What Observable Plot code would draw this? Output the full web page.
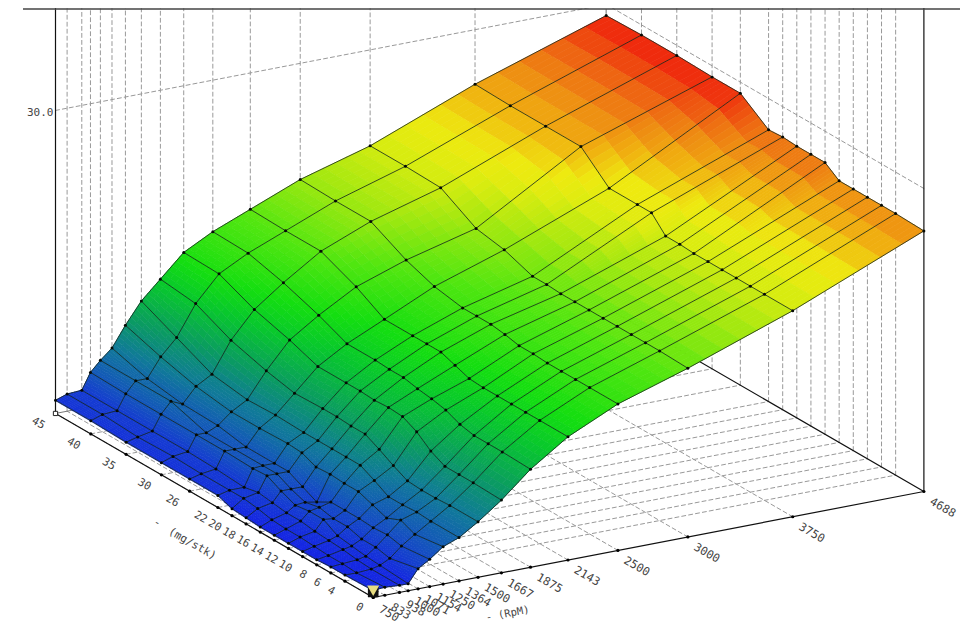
<!DOCTYPE html>
<html><head><meta charset="utf-8">
<script src="https://cdn.jsdelivr.net/npm/d3@7"></script>
<script src="https://cdn.jsdelivr.net/npm/@observablehq/plot@0.6"></script>
<style>html,body{margin:0;background:#fff}svg{display:block}</style>
</head><body><div id="chart"></div>
<script>
const rpm=[750,833,938,1000,1071,1154,1250,1364,1500,1667,1875,2143,2500,3000,3750,4688];
const fuel=[0,4,6,8,10,12,14,16,18,20,22,26,30,35,40,45];
const z0 =[.7,.8,.7,.7,2.0,2.7,3.7,4.3,5.5,7.2,9.7,12.2,14.5,16.7,20.4,25.8];
const z4 =[.6,.6,.7,.9,1.4,2.4,3.3,4.3,5.5,7.3,9.8,12.2,14.5,16.8,20.4,25.9];
const z6 =[.6,.7,.8,1.0,1.7,2.7,3.9,4.4,5.4,7.3,9.8,12.2,14.5,16.8,20.4,25.9];
const z8 =[.5,.7,1.0,1.2,1.7,2.6,3.3,4.3,5.4,7.3,9.8,12.2,14.5,16.8,20.4,25.9];
const z10=[.5,.8,1.1,1.4,2.1,2.7,3.8,4.3,5.5,8.0,10.1,12.2,14.5,16.8,20.4,25.9];
const z12=[.5,.9,1.2,2.2,2.1,2.7,4.3,5.1,6.2,9.1,10.7,12.2,14.6,16.8,20.4,25.9];
const z14=[.5,.9,1.4,2.2,2.4,2.7,4.3,5.8,7.0,9.8,11.0,12.3,14.6,16.8,20.4,26.9];
const z16=[.5,1.0,1.4,2.0,2.1,1.9,4.4,5.8,7.7,9.9,11.2,12.8,14.9,16.8,20.5,26.9];
const z18=[.6,1.3,1.6,2.6,2.6,2.6,4.3,5.8,7.7,9.8,11.5,13.3,15.1,16.8,20.5,26.9];
const z20=[.7,1.5,1.8,3.3,3.3,3.3,4.9,5.8,7.8,9.9,11.5,13.3,15.1,16.9,22.0,27.0];
const z22=[1.2,1.5,1.5,3.2,3.3,3.3,5.0,5.8,7.8,9.9,11.6,13.3,15.1,16.9,22.0,26.9];
const z26=[1.2,1.5,1.7,3.3,3.3,3.3,4.9,5.9,7.7,9.9,11.6,13.3,15.6,17.9,22.0,28.9];
const z30=[1.2,1.6,1.8,3.3,3.3,3.8,4.9,5.8,8.3,10.9,12.8,14.9,16.6,18.4,24.5,28.9];
const z35=[1.2,1.5,1.8,3.3,4.4,3.9,5.4,6.3,9.3,11.9,14.0,16.4,18.4,20.4,24.5,29.0];
const z40=[1.3,1.7,1.8,3.3,4.4,4.4,6.3,7.9,10.9,13.4,14.9,16.4,18.4,20.5,24.5,29.0];
const z45=[1.3,1.7,1.8,3.4,4.4,5.4,7.4,9.5,11.3,13.5,15.0,16.5,18.5,20.5,24.6,28.9];
const surface=[z0,z4,z6,z8,z10,z12,z14,z16,z18,z20,z22,z26,z30,z35,z40,z45];
const colorStops=[0.4,3,5.5,8,11,13,16,19,21,22.5,24.5,25.8,27,29];
const colorRange=["#1422e6","#1450c0","#107a98","#0a9c60","#08c82c","#14de10","#50e610","#a8e810","#dcec10","#eeea10","#f0ae10","#ee8c12","#ee6a12","#ef1d0c"];

// oblique projection of the chart's 3-D box onto the page
const px=(r,f)=>372.7+0.13984*(r-750)-7.06*f;
const py=(r,f,z)=>597-0.02692*(r-750)-4.09*f-10.1*z;
const P=(r,f,z,id)=>({x:px(r,f),y:py(r,f,z),id});
const rMin=rpm[0],rMax=rpm[15],fMax=fuel[15],zTop=60;

// painted sub-cells, back to front
const SUB=6, cells=[];
let cid=0;
for(let j=14;j>=0;j--)for(let i=14;i>=0;i--){
  const v=(u,w)=>(1-u)*(1-w)*surface[j][i]+u*(1-w)*surface[j][i+1]+(1-u)*w*surface[j+1][i]+u*w*surface[j+1][i+1];
  const rr=u=>rpm[i]+u*(rpm[i+1]-rpm[i]), ff=w=>fuel[j]+w*(fuel[j+1]-fuel[j]);
  for(let b=SUB-1;b>=0;b--)for(let a=SUB-1;a>=0;a--){
    const u0=a/SUB,u1=(a+1)/SUB,w0=b/SUB,w1=(b+1)/SUB;
    const m=v((u0+u1)/2,(w0+w1)/2);
    cid++;
    for(const [u,w] of [[u0,w0],[u1,w0],[u1,w1],[u0,w1]])
      cells.push({x:px(rr(u),ff(w)),y:py(rr(u),ff(w),v(u,w)),id:cid,v:m});
  }
}
const meshR=[],meshF=[],nodes=[];
fuel.forEach((f,j)=>rpm.forEach((r,i)=>{meshR.push(P(r,f,surface[j][i],"f"+j));nodes.push(P(r,f,surface[j][i]));}));
rpm.forEach((r,i)=>fuel.forEach((f,j)=>meshF.push(P(r,f,surface[j][i],"r"+i))));

const dashed=[],solid=[],strong=[];
rpm.forEach((r,i)=>{
  if(i<15){dashed.push(P(r,0,0,"a"+i),P(r,fMax,0,"a"+i));}
  if(i>0)dashed.push(P(r,fMax,0,"b"+i),P(r,fMax,zTop,"b"+i));
});
fuel.forEach((f,j)=>{
  if(j>0&&j<15)dashed.push(P(rMin,f,0,"c"+j),P(rMax,f,0,"c"+j));
  if(j>0)dashed.push(P(rMax,f,0,"d"+j),P(rMax,f,zTop,"d"+j));
});
dashed.push(P(rMin,fMax,30,"e"),P(rMax,fMax,30,"e"),P(rMax,0,30,"e"));
solid.push(P(rMin,fMax,0,"g"),P(rMax,fMax,0,"g"));
strong.push(P(rMin,fMax,0,"h"),P(rMin,0,0,"h"),P(rMax,0,0,"h"),P(rMax,fMax,0,"h2"),P(rMax,0,0,"h2"),
  P(rMin,fMax,0,"i"),P(rMin,fMax,zTop,"i"),P(rMax,0,0,"j"),P(rMax,0,zTop,"j"));

const ticks=[...rpm.map(r=>P(r,0,0)),...fuel.map(f=>P(rMin,f,0))];
const rpmLabels=rpm.map(r=>({...P(r,0,0),t:String(r),dx:r<1000?16:19,dy:16}));
const fuelLabels=fuel.map(f=>({...P(rMin,f,0),t:String(f),dx:f<10?-13.5:-17,dy:9.5}));
const front=P(rMin,0,surface[0][0]);
const mono="DejaVu Sans Mono";

const chart=Plot.plot({
  width:977,height:635,marginTop:8,marginRight:0,marginBottom:0,marginLeft:0,
  style:{background:"#fff"},
  x:{domain:[0,977],range:[0,977],axis:null},
  y:{domain:[635,8],range:[635,8],axis:null},
  color:{type:"linear",domain:colorStops,range:colorRange,interpolate:"rgb",clamp:true},
  marks:[
    Plot.line(dashed,{x:"x",y:"y",z:"id",stroke:"#999",strokeWidth:1,strokeDasharray:"4,3",clip:true}),
    Plot.line(solid,{x:"x",y:"y",z:"id",stroke:"#777",strokeWidth:1}),
    Plot.line(strong,{x:"x",y:"y",z:"id",stroke:"#111",strokeWidth:1.2,clip:true}),
    Plot.dot(ticks,{x:"x",y:"y",r:1.6,fill:"#000"}),
    Plot.ruleY([8.5],{x1:23,x2:960,stroke:"#444",strokeWidth:1.3}),
    Plot.line(cells,{x:"x",y:"y",z:"id",fill:"v",stroke:"v",strokeWidth:.7,curve:"linear-closed"}),
    Plot.line(meshR,{x:"x",y:"y",z:"id",stroke:"#14241a",strokeOpacity:.8,strokeWidth:1}),
    Plot.line(meshF,{x:"x",y:"y",z:"id",stroke:"#14241a",strokeOpacity:.8,strokeWidth:1}),
    Plot.dot(nodes,{x:"x",y:"y",r:1.5,fill:"#050a05"}),
    Plot.dot([P(rMin,fMax,0)],{x:"x",y:"y",symbol:"square",r:2.4,fill:"#fff",stroke:"#222",strokeWidth:1}),
    Plot.dot([front],{x:"x",y:d=>d.y+1.5,symbol:"square",r:6,fill:"#111"}),
    Plot.dot([front],{x:"x",y:d=>d.y-1.5,symbol:"triangle",rotate:180,r:4.5,fill:"#e8dc80"}),
    Plot.text(rpmLabels,{x:d=>d.x+d.dx,y:d=>d.y+d.dy,text:"t",rotate:30,fontFamily:mono,fontSize:11.5,fill:"#444"}),
    Plot.text(fuelLabels,{x:d=>d.x+d.dx,y:d=>d.y+d.dy,text:"t",rotate:30,fontFamily:mono,fontSize:11,fill:"#444"}),
    Plot.text(["30.0"],{x:P(rMin,fMax,30).x-2,y:P(rMin,fMax,30).y+2,textAnchor:"end",fontFamily:mono,fontSize:11,fill:"#444"}),
    Plot.text(["-"],{x:157,y:522,rotate:30,fontFamily:mono,fontSize:11,fill:"#444"}),
    Plot.text(["(mg/stk)"],{x:192,y:543,rotate:30,fontFamily:mono,fontSize:11,fill:"#444"}),
    Plot.text(["- (RpM)"],{x:507,y:613,rotate:-11,fontFamily:mono,fontSize:10.5,fill:"#444"})
  ]
});
document.getElementById("chart").append(chart);
</script></body></html>
